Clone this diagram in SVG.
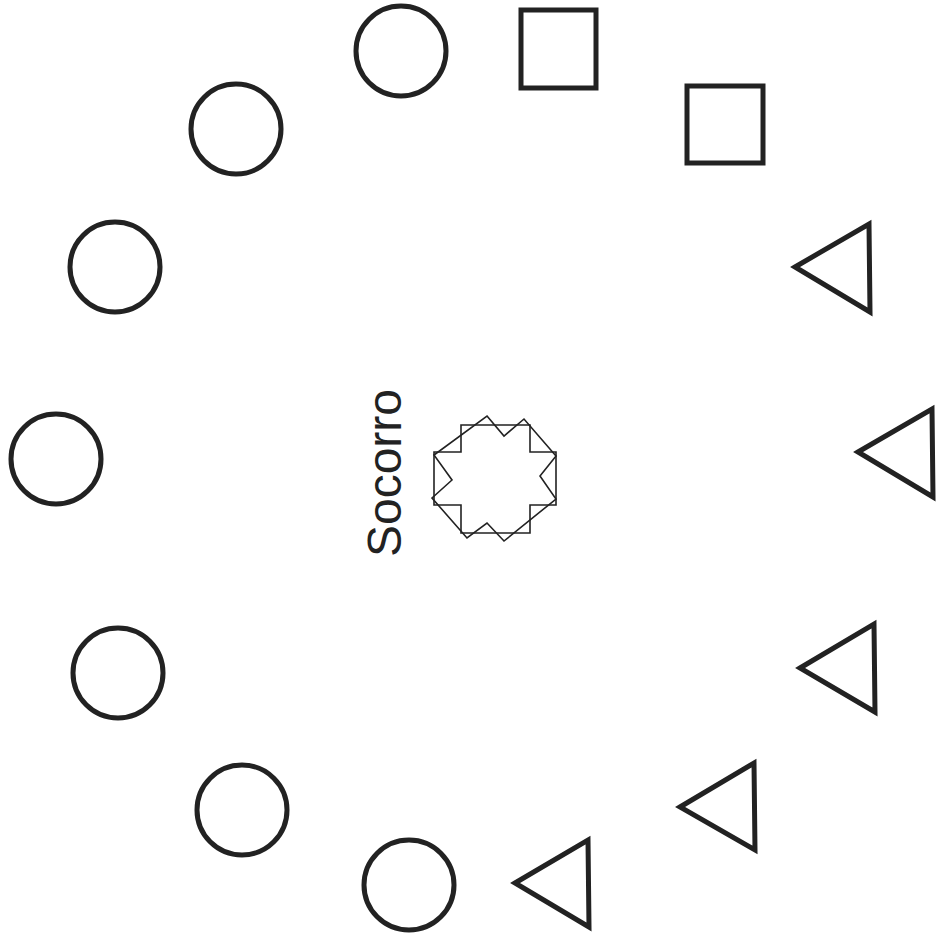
<svg xmlns="http://www.w3.org/2000/svg" width="940" height="944" viewBox="0 0 940 944">
<style>
.sh{fill:none;stroke:#222;stroke-width:5;stroke-linejoin:miter}
.thin{fill:none;stroke:#222;stroke-width:1.6}
.lbl{font-family:"Liberation Sans",Arial,sans-serif;font-size:48px;fill:#222}
</style>
<rect width="940" height="944" fill="#fff"/>
<g id="circle1"><circle class="sh" cx="401" cy="51" r="45"/></g>
<g id="circle2"><circle class="sh" cx="236" cy="129" r="45"/></g>
<g id="circle3"><circle class="sh" cx="115" cy="267" r="45"/></g>
<g id="circle4"><circle class="sh" cx="56" cy="459" r="45"/></g>
<g id="circle5"><circle class="sh" cx="118" cy="673" r="45"/></g>
<g id="circle6"><circle class="sh" cx="242" cy="810" r="45"/></g>
<g id="circle7"><circle class="sh" cx="409" cy="885" r="45"/></g>
<g id="square1"><rect class="sh" x="521" y="10" width="75" height="78"/></g>
<g id="square2"><rect class="sh" x="687" y="86" width="76" height="77"/></g>
<g id="triangle1"><polygon class="sh" points="795,267 869,224 870,312"/></g>
<g id="triangle2"><polygon class="sh" points="858,452 932,409 933,497"/></g>
<g id="triangle3"><polygon class="sh" points="800,668 874,624 875,712"/></g>
<g id="triangle4"><polygon class="sh" points="680,807 754,763 755,850"/></g>
<g id="triangle5"><polygon class="sh" points="515,883 588,840 589,927"/></g>
<g id="socorro">
<polygon class="thin" points="461,425 530,425 530,452 556,452 556,505 530,505 530,533 461,533 461,505 434,505 434,452 461,452"/>
<polygon class="thin" points="487,416 504,436 524,419 556,456 540,476 556,499 504,541 487,523 467,538 432,498 452,480 434,455"/>
<text class="lbl" x="401" y="473" text-anchor="middle" transform="rotate(-90 401 473)">Socorro</text>
</g>
<g id="connectors"></g>
</svg>
